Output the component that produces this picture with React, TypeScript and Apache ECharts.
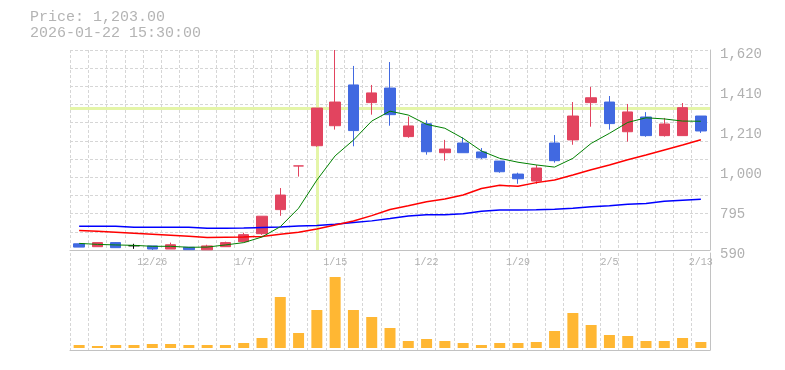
import React, { useEffect, useRef } from "react";
import * as echarts from "echarts";

const dates = ["12/22","12/23","12/24","12/25","12/26","12/29","12/30","1/5","1/6","1/7","1/8","1/9","1/13","1/14","1/15","1/16","1/19","1/20","1/21","1/22","1/23","1/26","1/27","1/28","1/29","1/30","2/2","2/3","2/4","2/5","2/6","2/9","2/10","2/12","2/13"];
const opens = [622, 607, 628, 612, 611, 595, 604, 591, 607, 633, 674, 798, 1023, 1127, 1230, 1440, 1349, 1424, 1174, 1240, 1091, 1141, 1095, 1048, 981, 945, 1141, 1157, 1349, 1352, 1199, 1275, 1179, 1179, 1280];
const closes = [605, 628, 602, 612, 595, 617, 592, 611, 628, 669, 764, 873, 1023, 1321, 1352, 1205, 1399, 1287, 1229, 1096, 1110, 1091, 1065, 993, 957, 1012, 1050, 1280, 1374, 1241, 1301, 1179, 1239, 1323, 1203];
const lows = [605, 607, 602, 596, 590, 595, 592, 591, 607, 630, 668, 766, 968, 1122, 1210, 1124, 1287, 1230, 1168, 1081, 1050, 1091, 1059, 988, 931, 931, 1040, 1132, 1225, 1210, 1148, 1173, 1174, 1179, 1193];
const highs = [622, 628, 631, 622, 611, 628, 604, 617, 633, 679, 764, 909, 1023, 1321, 1620, 1538, 1440, 1558, 1277, 1258, 1157, 1170, 1115, 1048, 988, 1028, 1182, 1352, 1430, 1383, 1342, 1300, 1270, 1347, 1280];
const volumes = [300, 200, 300, 300, 400, 400, 300, 300, 300, 500, 1000, 5100, 1500, 3800, 7100, 3800, 3100, 2000, 700, 900, 700, 500, 300, 500, 500, 600, 1700, 3500, 2300, 1300, 1200, 700, 700, 1000, 600];
const ma5 = [624, 619, 616, 614, 609, 609, 604, 605, 616, 628, 657, 710, 805, 950, 1075, 1156, 1254, 1305, 1285, 1237, 1217, 1165, 1100, 1062, 1042, 1028, 1017, 1062, 1139, 1191, 1247, 1271, 1265, 1254, 1253];
const ma25 = [691, 686, 681, 676, 671, 666, 661, 655, 656, 657, 660, 671, 681, 698, 719, 739, 767, 799, 818, 839, 853, 873, 907, 923, 918, 937, 950, 976, 1003, 1028, 1055, 1079, 1105, 1131, 1158];
const ma75 = [712, 712, 712, 707, 707, 707, 707, 702, 702, 703, 706, 708, 713, 716, 722, 731, 740, 752, 765, 772, 772, 777, 789, 796, 796, 797, 800, 805, 813, 818, 825, 830, 841, 846, 851];
const yTickLabels = ["590", "795", "1,000", "1,210", "1,410", "1,620"];
const headerPrice = "Price: 1,203.00";
const headerTime = "2026-01-22 15:30:00";
const crossIndex = 13;
const crossValue = 1320;
const dojiBlack = [3];
const dojiRed = [12];

const RED = "#e2445f";
const BLUE = "#4169e1";
const GRID = "#d6d6d6";
const AXIS = "#c2c2c2";
const LABEL = "#b0b0b0";
const FONT = "Liberation Mono";

export default function App() {
  const ref = useRef<HTMLDivElement>(null);
  useEffect(() => {
    if (!ref.current) return;
    const chart = echarts.init(ref.current, null, { renderer: "svg" });
    const candleData = dates.map((d, i) => {
      const item: any = { value: [opens[i], closes[i], lows[i], highs[i]] };
      if (dojiBlack.includes(i)) {
        item.itemStyle = { color: "#000", color0: "#000", borderColor: "#000", borderColor0: "#000", borderColorDoji: "#000" };
      } else if (dojiRed.includes(i)) {
        item.itemStyle = { color: RED, color0: RED, borderColor: RED, borderColor0: RED, borderColorDoji: RED };
      }
      return item;
    });
    const dash = { color: GRID, type: [3, 2] as any, width: 1 };
    chart.setOption({
      animation: false,
      grid: [
        { left: 70, right: 75, top: 50, height: 200 },
        { left: 70, right: 75, top: 253, height: 97 },
      ],
      graphic: [
        { type: "text", left: 30, top: 10, style: { text: headerPrice, fill: "#b4b4b4", font: `15px "${FONT}"`, lineHeight: 15 } },
        { type: "text", left: 30, top: 26, style: { text: headerTime, fill: "#b4b4b4", font: `15px "${FONT}"`, lineHeight: 15 } },
      ],
      xAxis: [
        {
          type: "category", gridIndex: 0, data: dates, boundaryGap: true,
          axisLine: { show: true, lineStyle: { color: AXIS } },
          axisTick: { show: false },
          axisLabel: { interval: (i: number) => i % 5 === 4, color: LABEL, fontFamily: FONT, fontSize: 10, margin: 7 },
          splitLine: { show: true, interval: 0, lineStyle: dash },
        },
        {
          type: "category", gridIndex: 1, data: dates, boundaryGap: true,
          axisLine: { show: true, onZero: false, lineStyle: { color: AXIS } },
          axisTick: { show: false },
          axisLabel: { show: false },
          splitLine: { show: true, interval: 0, lineStyle: dash },
        },
      ],
      yAxis: [
        {
          type: "value", gridIndex: 0, position: "right", min: 590, max: 1620, interval: 206,
          axisLine: { show: true, lineStyle: { color: AXIS } },
          axisTick: { show: false },
          splitLine: { show: false },
          axisLabel: {
            color: LABEL, fontFamily: FONT, fontSize: 14, margin: 10, verticalAlign: "top", lineHeight: 8,
            formatter: (v: number) => yTickLabels[Math.round((v - 590) / 206)] ?? "",
          },
        },
        {
          type: "value", gridIndex: 0, position: "left", min: 0, max: 11, interval: 1,
          axisLine: { show: false }, axisTick: { show: false }, axisLabel: { show: false },
          splitLine: { show: true, lineStyle: dash },
        },
        {
          type: "value", gridIndex: 1, position: "right", min: -200, max: 9500,
          axisLine: { show: true, lineStyle: { color: AXIS } },
          axisTick: { show: false }, axisLabel: { show: false }, splitLine: { show: false },
        },
      ],
      series: [
        {
          type: "candlestick", xAxisIndex: 0, yAxisIndex: 0, data: candleData, barWidth: 11, z: 2,
          itemStyle: { color: RED, color0: BLUE, borderColor: RED, borderColor0: BLUE, borderColorDoji: "#000", borderWidth: 1 },
          markLine: {
            silent: true, symbol: ["none", "none"], z: 1, animation: false,
            label: { show: false },
            lineStyle: { color: "#e4f5a8", width: 3, type: "solid" },
            data: [{ xAxis: dates[crossIndex] }, { yAxis: crossValue }],
          },
        },
        { type: "line", name: "MA75", xAxisIndex: 0, yAxisIndex: 0, data: ma75, symbol: "none", z: 3, lineStyle: { color: "#0000ff", width: 1.5 } },
        { type: "line", name: "MA25", xAxisIndex: 0, yAxisIndex: 0, data: ma25, symbol: "none", z: 3, lineStyle: { color: "#ff0000", width: 1.5 } },
        { type: "line", name: "MA5", xAxisIndex: 0, yAxisIndex: 0, data: ma5, symbol: "none", z: 3, lineStyle: { color: "#008000", width: 1 } },
        { type: "bar", xAxisIndex: 1, yAxisIndex: 2, data: volumes, barWidth: 11, itemStyle: { color: "#ffb733" } },
      ],
    });
    return () => chart.dispose();
  }, []);
  return <div ref={ref} style={{ position: "fixed", left: 0, top: 0, width: 785, height: 370 }} />;
}
